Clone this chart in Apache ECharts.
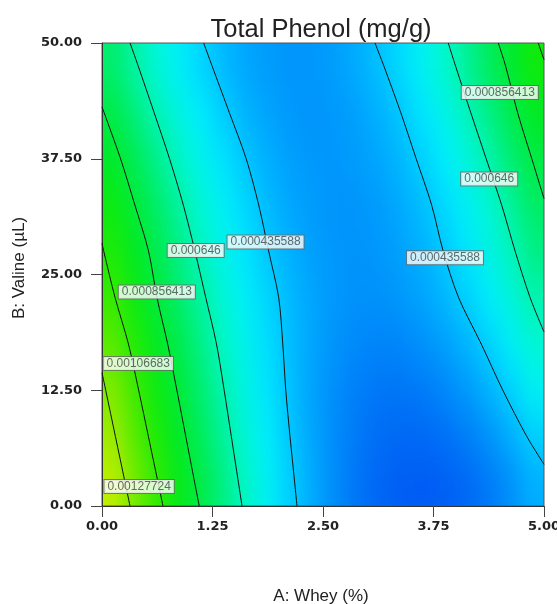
<!DOCTYPE html>
<html>
<head>
<meta charset="utf-8">
<script src="https://cdn.jsdelivr.net/npm/echarts@6/dist/echarts.min.js"></script>
<style>
html,body{margin:0;padding:0;background:#fff;}
#wrap{position:relative;width:557px;height:604px;overflow:hidden;}
#heatClip{position:absolute;left:102px;top:43px;width:442px;height:463px;overflow:hidden;}
#heat{width:442px;height:463px;filter:url(#smooth);}
#chart{position:absolute;left:0;top:0;width:557px;height:604px;}
</style>
</head>
<body>
<svg width="0" height="0" style="position:absolute">
  <filter id="smooth" x="-20%" y="-20%" width="140%" height="140%" color-interpolation-filters="sRGB">
    <feGaussianBlur stdDeviation="9 19"/>
    <feComponentTransfer><feFuncA type="table" tableValues="1 1"/></feComponentTransfer>
  </filter>
</svg>
<div id="wrap">
  <div id="heatClip"><div id="heat"></div></div>
  <div id="chart"></div>
</div>
<script>
// Cell centres of the response grid (A: Whey %, B: Valine µL)
const wheyCenters = [0.125,0.375,0.625,0.875,1.125,1.375,1.625,1.875,2.125,2.375,2.625,2.875,3.125,3.375,3.625,3.875,4.125,4.375,4.625,4.875];
const valineCenters = [2.5,7.5,12.5,17.5,22.5,27.5,32.5,37.5,42.5,47.5];

// Total phenol (mg/g), one array per B row
const phenol_B02_5 = [0.001391,0.001233,0.001085,0.000949,0.000827,0.000715,0.000614,0.000526,0.000450,0.000387,0.000334,0.000293,0.000264,0.000247,0.000242,0.000248,0.000267,0.000298,0.000340,0.000394];
const phenol_B07_5 = [0.001321,0.001169,0.001029,0.000900,0.000785,0.000680,0.000587,0.000507,0.000437,0.000379,0.000334,0.000300,0.000277,0.000267,0.000269,0.000282,0.000307,0.000343,0.000391,0.000452];
const phenol_B12_5 = [0.001258,0.001113,0.000978,0.000856,0.000747,0.000648,0.000562,0.000488,0.000425,0.000374,0.000337,0.000309,0.000294,0.000292,0.000301,0.000322,0.000355,0.000400,0.000456,0.000524];
const phenol_B17_5 = [0.001182,0.001046,0.000921,0.000810,0.000709,0.000618,0.000541,0.000475,0.000421,0.000377,0.000347,0.000326,0.000319,0.000322,0.000339,0.000364,0.000404,0.000454,0.000515,0.000589];
const phenol_B22_5 = [0.001100,0.000974,0.000860,0.000757,0.000667,0.000587,0.000517,0.000461,0.000414,0.000379,0.000355,0.000343,0.000343,0.000353,0.000374,0.000408,0.000452,0.000507,0.000574,0.000652];
const phenol_B27_5 = [0.001035,0.000915,0.000808,0.000711,0.000625,0.000551,0.000488,0.000438,0.000398,0.000368,0.000351,0.000346,0.000351,0.000370,0.000398,0.000438,0.000490,0.000553,0.000627,0.000713];
const phenol_B32_5 = [0.000980,0.000865,0.000762,0.000669,0.000589,0.000520,0.000463,0.000416,0.000381,0.000360,0.000347,0.000349,0.000360,0.000385,0.000419,0.000467,0.000524,0.000593,0.000675,0.000768];
const phenol_B37_5 = [0.000900,0.000793,0.000698,0.000614,0.000543,0.000482,0.000433,0.000395,0.000368,0.000353,0.000351,0.000360,0.000379,0.000410,0.000452,0.000507,0.000572,0.000650,0.000738,0.000839];
const phenol_B42_5 = [0.000827,0.000728,0.000640,0.000564,0.000499,0.000446,0.000404,0.000375,0.000355,0.000348,0.000353,0.000370,0.000398,0.000436,0.000488,0.000549,0.000625,0.000709,0.000806,0.000915];
const phenol_B47_5 = [0.000753,0.000663,0.000583,0.000515,0.000459,0.000414,0.000381,0.000360,0.000349,0.000351,0.000364,0.000389,0.000425,0.000471,0.000530,0.000602,0.000684,0.000778,0.000884,0.000999];
const phenolRows = [phenol_B02_5,phenol_B07_5,phenol_B12_5,phenol_B17_5,phenol_B22_5,phenol_B27_5,phenol_B32_5,phenol_B37_5,phenol_B42_5,phenol_B47_5];

// Contour lines, points [A, B]
const contourLevels = [0.000435588, 0.000646, 0.000856413, 0.00106683, 0.00127724];
const c1Left  = [[1.15,50],[1.246,47.5],[1.44,42.5],[1.631,37.5],[1.773,32.5],[1.886,27.5],[1.999,22.5],[2.045,17.5],[2.079,12.5],[2.127,7.5],[2.18,2.5],[2.206,0]];
const c1Right = [[3.088,50],[3.189,47.5],[3.379,42.5],[3.554,37.5],[3.729,32.5],[3.86,27.5],[4.034,22.5],[4.29,17.5],[4.534,12.5],[4.806,7.5],[5.0,4.5]];
const c2Left  = [[0.317,50],[0.41,47.5],[0.589,42.5],[0.764,37.5],[0.92,32.5],[1.052,27.5],[1.174,22.5],[1.295,17.5],[1.382,12.5],[1.463,7.5],[1.544,2.5],[1.584,0]];
const c2Right = [[3.917,50],[4.0,47.5],[4.171,42.5],[4.346,37.5],[4.521,32.5],[4.674,27.5],[4.843,22.5],[5.0,18.8]];
const c3Left  = [[0,43.1],[0.023,42.5],[0.21,37.5],[0.372,32.5],[0.527,27.5],[0.622,22.5],[0.743,17.5],[0.847,12.5],[0.948,7.5],[1.049,2.5],[1.1,0]];
const c3Right = [[4.483,50],[4.566,47.5],[4.701,42.5],[4.862,37.5],[5.0,33.2]];
const c4Left  = [[0,28.4],[0.02,27.5],[0.148,22.5],[0.299,17.5],[0.415,12.5],[0.525,7.5],[0.635,2.5],[0.69,0]];
const c4Right = [[4.935,50],[5.0,48.2]];
const c5Left  = [[0,14.4],[0.042,12.5],[0.152,7.5],[0.262,2.5],[0.317,0]];
const contourPaths = [c1Left,c1Right,c2Left,c2Right,c3Left,c3Right,c4Left,c4Right,c5Left];

// Contour label spots [A, B, label]
const contourLabelSpots = [
  [1.06, 27.6, '0.000646'],
  [1.85, 28.5, '0.000435588'],
  [0.62, 23.1, '0.000856413'],
  [0.41, 15.4, '0.00106683'],
  [0.42, 2.1, '0.00127724'],
  [4.50, 44.65, '0.000856413'],
  [4.38, 35.3, '0.000646'],
  [3.88, 26.8, '0.000435588']
];

const wheyTicks = ['0.00','1.25','2.50','3.75','5.00'];
const valineTicks = ['0.00','12.50','25.00','37.50','50.00'];

// colour ramp stops (low -> high), spaced evenly from 0.0002 to 0.0015
const rampColors = ['#0046f0','#007af8','#00b2ff','#00ecff','#00f8d0','#00f08c','#00ec52','#00ea28','#0feb0a','#37eb00','#64eb00','#96eb00','#c3ee00','#e6f000'];

const heatData = [];
phenolRows.forEach(function(row, j){
  row.forEach(function(v, i){ heatData.push([i, j, v]); });
});

// ---- filled response surface (heatmap) ----
const heat = echarts.init(document.getElementById('heat'), null, {renderer:'canvas'});
heat.setOption({
  animation:false,
  grid:{left:0, right:0, top:0, bottom:0, outerBoundsMode:'none', containLabel:false},
  visualMap:{show:false, type:'continuous', seriesIndex:0, dimension:2, min:0.0002, max:0.0015, inRange:{color:rampColors}},
  xAxis:{type:'category', data:wheyCenters, show:false, boundaryGap:true},
  yAxis:{type:'category', data:valineCenters, show:false, boundaryGap:true},
  series:[{type:'heatmap', data:heatData, emphasis:{disabled:true}, itemStyle:{borderWidth:0}}]
});

// ---- axes, contours and labels ----
const chart = echarts.init(document.getElementById('chart'), null, {renderer:'canvas'});
const tickFont = {fontFamily:'DejaVu Sans', fontWeight:'bold', fontSize:13, color:'#222'};

const series = [];
contourPaths.forEach(function(p){
  series.push({
    type:'line', data:p, smooth:0.3, symbol:'none', silent:true,
    lineStyle:{color:'#111', width:1}
  });
});
series.push({
  type:'scatter', symbolSize:0, silent:true, z:10,
  data:contourLabelSpots.map(function(s){ return [s[0], s[1], s[2]]; }),
  label:{
    show:true, position:'inside',
    formatter:function(p){ return p.value[2]; },
    fontFamily:'Liberation Sans', fontSize:12, color:'#444',
    backgroundColor:'#fff', borderColor:'#666', borderWidth:1,
    padding:[1,3,0,3]
  }
});

chart.setOption({
  animation:false,
  backgroundColor:'transparent',
  grid:{left:102, right:13, top:43, bottom:98, outerBoundsMode:'none', containLabel:false,
        show:true, borderColor:'#555', borderWidth:1, backgroundColor:'transparent'},
  xAxis:{type:'value', min:0, max:5, interval:1.25, position:'bottom',
     axisLine:{show:true, lineStyle:{color:'#333'}},
     axisTick:{show:true, length:11, lineStyle:{color:'#444'}},
     axisLabel:Object.assign({margin:14, formatter:function(v){ return wheyTicks[Math.round(v/1.25)]; }}, tickFont),
     splitLine:{show:false}},
  yAxis:{type:'value', min:0, max:50, interval:12.5, position:'left',
     axisLine:{show:true, lineStyle:{color:'#333'}},
     axisTick:{show:true, length:11, lineStyle:{color:'#444'}},
     axisLabel:Object.assign({margin:20, formatter:function(v){ return valineTicks[Math.round(v/12.5)]; }}, tickFont),
     splitLine:{show:false}},
  graphic:[
    {type:'text', x:321, y:30, style:{text:'Total Phenol (mg/g)', fontFamily:'Liberation Sans', fontSize:25.5, fill:'#222', align:'center', verticalAlign:'middle'}},
    {type:'text', x:321, y:596, style:{text:'A: Whey (%)', fontFamily:'Liberation Sans', fontSize:17, fill:'#222', align:'center', verticalAlign:'middle'}},
    {type:'text', x:19, y:268, rotation:Math.PI/2, style:{text:'B: Valine (µL)', fontFamily:'Liberation Sans', fontSize:17, fill:'#222', align:'center', verticalAlign:'middle'}}
  ],
  series:series
});
</script>
</body>
</html>
